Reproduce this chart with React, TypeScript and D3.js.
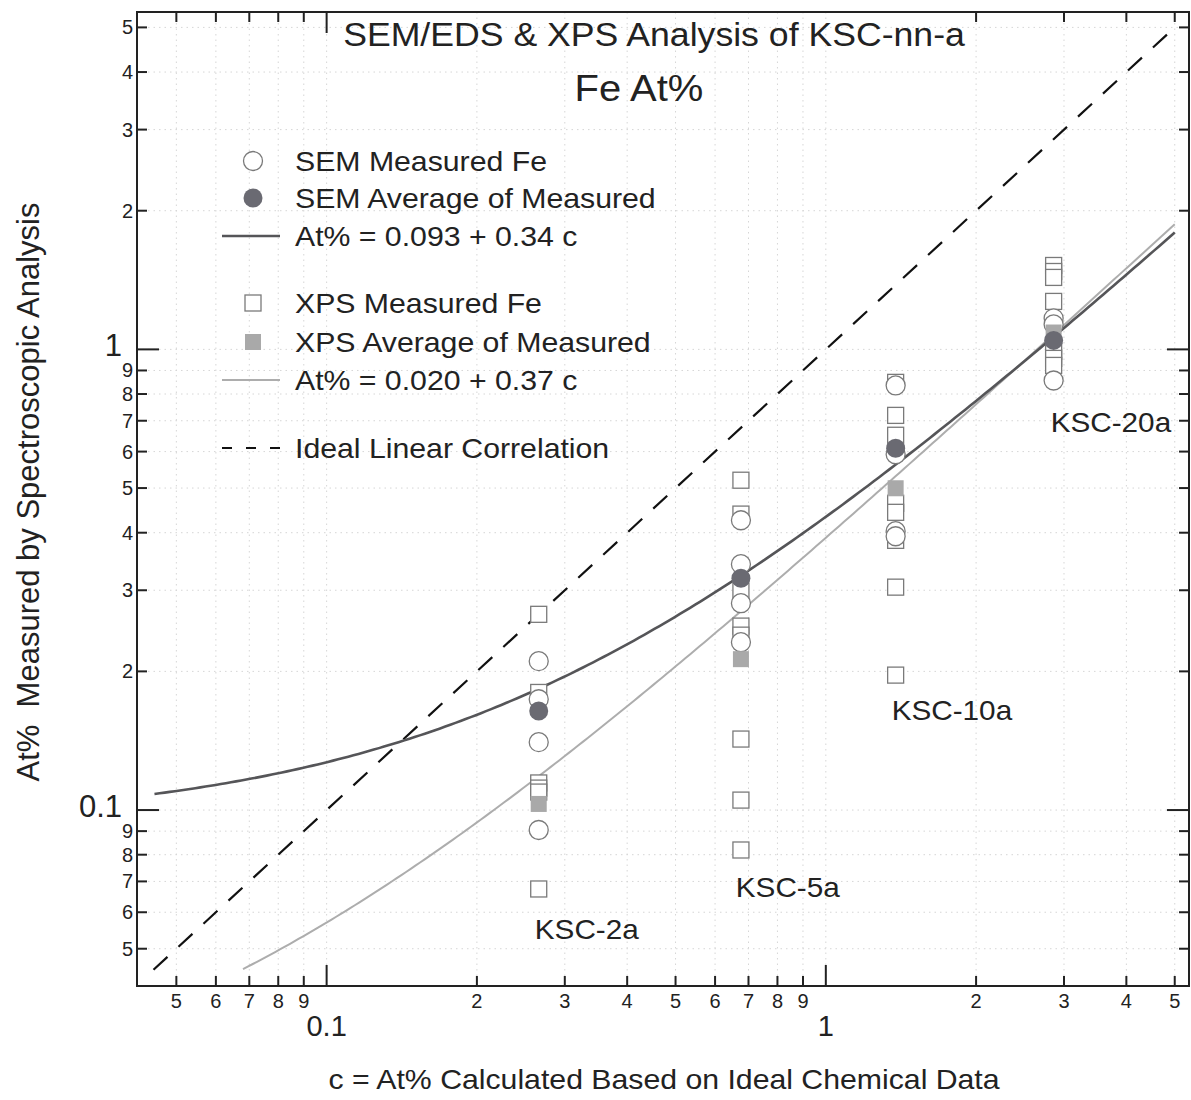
import React from "react";
import * as d3 from "d3";

// samples and their ideal (calculated) Fe At%
const samples = ["KSC-2a", "KSC-5a", "KSC-10a", "KSC-20a"];
const calcFe = [0.266, 0.676, 1.38, 2.86];

// SEM/EDS measured Fe At% for each sample
const semMeasured = [
  [0.2105, 0.174, 0.1404, 0.0905],
  [0.4257, 0.3418, 0.2812, 0.2314],
  [0.835, 0.592, 0.403, 0.393],
  [1.168, 1.133, 0.856],
];
const semAverage = [0.164, 0.3186, 0.61, 1.046];

// XPS measured Fe At% for each sample
const xpsMeasured = [
  [0.266, 0.18, 0.1145, 0.1116, 0.1094, 0.0674],
  [0.52, 0.439, 0.2985, 0.2508, 0.2397, 0.1426, 0.1051, 0.0819],
  [0.848, 0.719, 0.651, 0.4634, 0.4429, 0.385, 0.3047, 0.1963],
  [1.521, 1.476, 1.433, 1.271, 0.99, 0.956, 0.923],
];
const xpsAverage = [0.1031, 0.2126, 0.4995, 1.088];

// fit coefficients: At% = a + b c
const semFit = { a: 0.093, b: 0.34 };
const xpsFit = { a: 0.02, b: 0.37 };

// where the sample names sit (data units)
const labelC = [0.332, 0.839, 1.789, 3.725];
const labelV = [0.0552, 0.0681, 0.1648, 0.695];

const W = 1191;
const H = 1100;
const FONT = "'Liberation Sans', Arial, Helvetica, sans-serif";
const SX = 1.08; // the original is a little wider than tall

const x = d3.scaleLog().domain([0.0417, 5.34]).range([137, 1189]);
const y = d3.scaleLog().domain([0.0415, 5.4]).range([986, 12]);

const isMajor = (v: number) => Math.abs(Math.log10(v) - Math.round(Math.log10(v))) < 1e-9;
const lead = (v: number) => String(Math.round(v / Math.pow(10, Math.floor(Math.log10(v) + 1e-9))));

function fitPath(a: number, b: number, c0: number, c1: number) {
  const cs = d3.range(0, 201).map(i => c0 * Math.pow(c1 / c0, i / 200));
  return d3.line<number>().x(c => x(c)).y(c => y(a + b * c))(cs) || "";
}

function T(props: { x: number; y: number; size: number; anchor?: string; children: React.ReactNode }) {
  return (
    <text
      transform={`translate(${props.x},${props.y}) scale(${SX},1)`}
      fontSize={props.size}
      textAnchor={props.anchor || "start"}
      fill="#222"
      xmlSpace="preserve"
    >
      {props.children}
    </text>
  );
}

export default function App() {
  const [x0, x1] = x.range();
  const [y0, y1] = y.range();
  const xt = x.ticks();
  const yt = y.ticks();

  const semLine = fitPath(semFit.a, semFit.b, 0.0452, 5.0);
  const xpsLine = fitPath(xpsFit.a, xpsFit.b, 0.068, 5.0);
  const ideal = d3.line<number>().x(c => x(c)).y(c => y(c))([0.045, 5.0]) || "";

  const legend = [
    { kind: "circle", text: "SEM Measured Fe", yy: 161 },
    { kind: "circleFill", text: "SEM Average of Measured", yy: 198 },
    { kind: "semLine", text: "At% = 0.093 + 0.34 c", yy: 236 },
    { kind: "square", text: "XPS Measured Fe", yy: 303 },
    { kind: "squareFill", text: "XPS Average of Measured", yy: 342 },
    { kind: "xpsLine", text: "At% = 0.020 + 0.37 c", yy: 380 },
    { kind: "dash", text: "Ideal Linear Correlation", yy: 448 },
  ];

  const circleStroke = "#7a7a7a";
  const semFill = "#6a6a72";
  const xpsFill = "#a9a9a9";
  const semColor = "#555558";
  const xpsColor = "#adadad";

  return (
    <div style={{ position: "absolute", left: 0, top: 0 }}>
      <svg width={W} height={H} style={{ display: "block", background: "#fff" }} fontFamily={FONT}>
        {/* dotted grid */}
        <g stroke="#d6d6d6" strokeWidth={1} strokeDasharray="1.5 4">
          {xt.map((t, i) => (
            <line key={"gx" + i} x1={x(t)} x2={x(t)} y1={y1} y2={y0} />
          ))}
          {yt.map((t, i) => (
            <line key={"gy" + i} x1={x0} x2={x1} y1={y(t)} y2={y(t)} />
          ))}
        </g>

        {/* frame */}
        <rect x={x0} y={y1} width={x1 - x0} height={y0 - y1} fill="none" stroke="#222" strokeWidth={2} />

        {/* ticks on all four sides, pointing inward */}
        <g stroke="#222" strokeWidth={2}>
          {xt.map((t, i) => {
            const len = isMajor(t) ? 21 : 10;
            return (
              <g key={"xt" + i}>
                <line x1={x(t)} x2={x(t)} y1={y0} y2={y0 - len} />
                {(t <= 0.1 || t >= 2) && <line x1={x(t)} x2={x(t)} y1={y1} y2={y1 + len} />}
              </g>
            );
          })}
          {yt.map((t, i) => {
            const len = isMajor(t) ? 22 : 10;
            return (
              <g key={"yt" + i}>
                <line x1={x0} x2={x0 + len} y1={y(t)} y2={y(t)} />
                <line x1={x1} x2={x1 - len} y1={y(t)} y2={y(t)} />
              </g>
            );
          })}
        </g>

        {/* x tick labels */}
        <g fill="#222" textAnchor="middle">
          {xt.map((t, i) =>
            isMajor(t) ? (
              <text key={"xl" + i} x={x(t)} y={1036} fontSize={29}>{String(t)}</text>
            ) : (
              <text key={"xl" + i} x={x(t)} y={1008} fontSize={20}>{lead(t)}</text>
            )
          )}
        </g>

        {/* y tick labels */}
        <g fill="#222" textAnchor="end">
          {yt.map((t, i) =>
            isMajor(t) ? (
              <text key={"yl" + i} x={122} y={y(t) + 7} fontSize={31}>{String(t)}</text>
            ) : (
              <text key={"yl" + i} x={133} y={y(t) + 7} fontSize={20}>{lead(t)}</text>
            )
          )}
        </g>

        {/* title */}
        <T x={654} y={46} size={33} anchor="middle">SEM/EDS &amp; XPS Analysis of KSC-nn-a</T>
        <T x={639} y={101} size={37} anchor="middle">Fe At%</T>

        {/* axis titles */}
        <T x={664} y={1089} size={28} anchor="middle">c = At% Calculated Based on Ideal Chemical Data</T>
        <text transform={`translate(39,492) rotate(-90)`} fontSize={31} textAnchor="middle" fill="#222" xmlSpace="preserve">
          {"At%  Measured by Spectroscopic Analysis"}
        </text>

        {/* lines */}
        <path d={ideal} fill="none" stroke="#111" strokeWidth={2.2} strokeDasharray="19 15" />
        <path d={xpsLine} fill="none" stroke={xpsColor} strokeWidth={2} />
        <path d={semLine} fill="none" stroke={semColor} strokeWidth={2.6} />

        {/* XPS measured */}
        {xpsMeasured.map((vals, si) =>
          vals.map((v, j) => (
            <rect key={"xs" + si + "_" + j} x={x(calcFe[si]) - 8} y={y(v) - 8} width={16} height={16} fill="#fff" stroke={circleStroke} strokeWidth={1.3} />
          ))
        )}
        {/* SEM measured */}
        {semMeasured.map((vals, si) =>
          vals.map((v, j) => (
            <circle key={"sm" + si + "_" + j} cx={x(calcFe[si])} cy={y(v)} r={9.5} fill="#fff" stroke={circleStroke} strokeWidth={1.3} />
          ))
        )}
        {/* averages */}
        {xpsAverage.map((v, si) => (
          <rect key={"xa" + si} x={x(calcFe[si]) - 8} y={y(v) - 8} width={16} height={16} fill={xpsFill} />
        ))}
        {semAverage.map((v, si) => (
          <circle key={"sa" + si} cx={x(calcFe[si])} cy={y(v)} r={9.5} fill={semFill} />
        ))}

        {/* sample names */}
        {samples.map((s, i) => (
          <T key={"lab" + i} x={x(labelC[i])} y={y(labelV[i]) + 10} size={27.5} anchor="middle">{s}</T>
        ))}

        {/* legend */}
        <g>
          {legend.map((item, i) => (
            <g key={"lg" + i}>
              {item.kind === "circle" && <circle cx={253} cy={item.yy} r={9.5} fill="#fff" stroke={circleStroke} strokeWidth={1.3} />}
              {item.kind === "circleFill" && <circle cx={253} cy={item.yy} r={9.5} fill={semFill} />}
              {item.kind === "square" && <rect x={245} y={item.yy - 8} width={16} height={16} fill="#fff" stroke={circleStroke} strokeWidth={1.3} />}
              {item.kind === "squareFill" && <rect x={245} y={item.yy - 8} width={16} height={16} fill={xpsFill} />}
              {item.kind === "semLine" && <line x1={222} x2={280} y1={item.yy} y2={item.yy} stroke={semColor} strokeWidth={2.6} />}
              {item.kind === "xpsLine" && <line x1={222} x2={280} y1={item.yy} y2={item.yy} stroke={xpsColor} strokeWidth={2} />}
              {item.kind === "dash" && <line x1={222} x2={282} y1={item.yy} y2={item.yy} stroke="#111" strokeWidth={2.2} strokeDasharray="10 14" />}
              <T x={295} y={item.yy + 10} size={28}>{item.text}</T>
            </g>
          ))}
        </g>
      </svg>
    </div>
  );
}
